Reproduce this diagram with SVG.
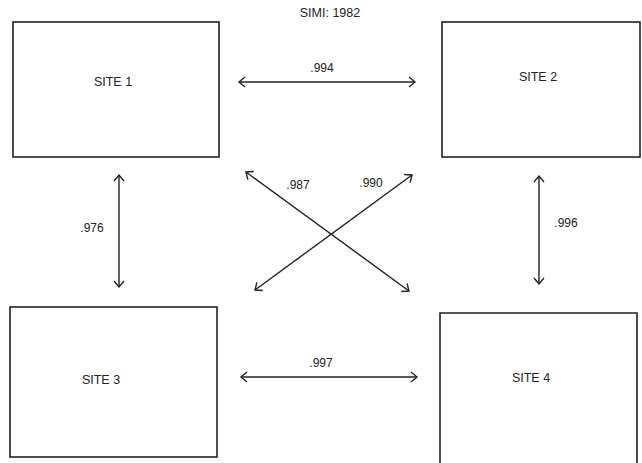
<svg xmlns="http://www.w3.org/2000/svg" width="642" height="463" viewBox="0 0 642 463">
<style>
.box{fill:#fff;stroke:#222;stroke-width:1.6}
.lbl{font-family:"Liberation Sans",Arial,sans-serif;font-size:12.5px;fill:#222;text-anchor:middle;dominant-baseline:central}
.num{font-family:"Liberation Sans",Arial,sans-serif;font-size:12px;fill:#222;text-anchor:middle;dominant-baseline:central}
.conn{stroke:#222;stroke-width:1.4;fill:none;marker-start:url(#ah);marker-end:url(#ah)}
</style>
<defs>
<marker id="ah" markerUnits="userSpaceOnUse" markerWidth="14" markerHeight="14" refX="0" refY="0" viewBox="-8 -7 10 14" orient="auto-start-reverse">
<path d="M -6 -5 L 0 0 L -6 5" fill="none" stroke="#222" stroke-width="1.4"/>
</marker>
</defs>
<rect width="642" height="463" fill="#fff"/>
<text class="lbl" x="330" y="13">SIMI: 1982</text>
<g id="site1"><rect class="box" x="13" y="22" width="206" height="135"/><text class="lbl" x="113" y="82">SITE 1</text></g>
<g id="site2"><rect class="box" x="442" y="22" width="198" height="135"/><text class="lbl" x="538" y="77">SITE 2</text></g>
<g id="site3"><rect class="box" x="10" y="307" width="207" height="150"/><text class="lbl" x="101" y="380">SITE 3</text></g>
<g id="site4"><path class="box" d="M440 470 V313 H637 V470"/><text class="lbl" x="531" y="378">SITE 4</text></g>
<g id="connectors">
<line class="conn" x1="239" y1="82" x2="415" y2="82"/>
<text class="num" x="322" y="68">.994</text>
<line class="conn" x1="119" y1="175" x2="119" y2="287"/>
<text class="num" x="92" y="228">.976</text>
<line class="conn" x1="246" y1="172" x2="409" y2="291"/>
<text class="num" x="298" y="185">.987</text>
<line class="conn" x1="412" y1="175" x2="255" y2="290"/>
<text class="num" x="371" y="183">.990</text>
<line class="conn" x1="539" y1="176" x2="539" y2="284"/>
<text class="num" x="566" y="223">.996</text>
<line class="conn" x1="241" y1="377" x2="417" y2="377"/>
<text class="num" x="321" y="363">.997</text>
</g>
</svg>
